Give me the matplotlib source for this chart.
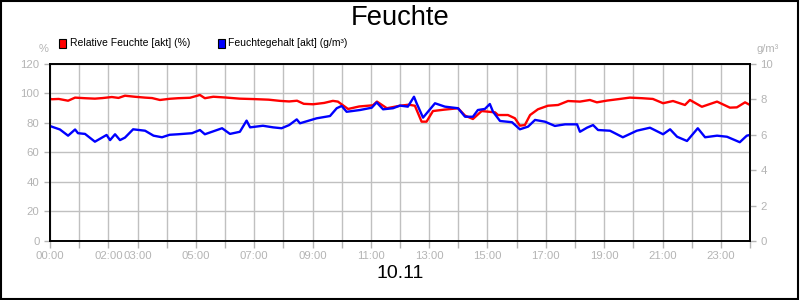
import matplotlib
matplotlib.use('Agg')
import matplotlib.pyplot as plt
from matplotlib.patches import Rectangle

plt.rcParams['font.family'] = ['Liberation Sans', 'DejaVu Sans']

# Relative Feuchte [%] (hours of day, value)
rh_t = [0.0, 0.06, 0.3, 0.62, 0.86, 1.2, 1.54, 1.8, 2.12, 2.35, 2.57, 2.9, 3.26, 3.5,
        3.77, 4.1, 4.39, 4.8, 5.14, 5.31, 5.6, 6.0, 6.5, 7.0, 7.5, 7.88, 8.2, 8.47,
        8.7, 9.02, 9.4, 9.7, 9.87, 10.22, 10.6, 11.07, 11.21, 11.55, 12.0, 12.3, 12.51,
        12.74, 12.91, 13.13, 13.5, 13.99, 14.23, 14.5, 14.8, 15.26, 15.36, 15.7, 15.94,
        16.11, 16.28, 16.46, 16.73, 17.07, 17.42, 17.76, 18.17, 18.51, 18.75, 19.1,
        19.54, 19.88, 20.3, 20.67, 21.02, 21.36, 21.77, 21.94, 22.35, 22.87, 23.31,
        23.55, 23.83, 24.0]
rh_v = [96.5, 96.1, 96.3, 95.1, 97.2, 96.8, 96.5, 96.9, 97.6, 97.0, 98.5, 97.8, 97.2,
        96.9, 95.6, 96.4, 96.8, 97.1, 99.0, 96.8, 97.8, 97.3, 96.5, 96.2, 95.8, 95.0,
        94.6, 95.1, 93.0, 92.7, 93.6, 95.0, 94.5, 89.5, 91.2, 92.0, 94.5, 90.0, 91.7,
        92.4, 91.7, 80.9, 80.9, 88.1, 89.0, 90.0, 85.0, 82.7, 88.1, 87.2, 85.4, 85.4,
        83.2, 78.2, 78.6, 85.4, 89.3, 91.7, 92.2, 94.9, 94.5, 95.6, 94.0, 95.2, 96.3,
        97.2, 96.8, 96.3, 93.4, 94.9, 92.2, 95.6, 91.0, 94.5, 90.4, 90.6, 94.0, 92.2]

# Feuchtegehalt [g/m3]
ah_t = [0.0, 0.06, 0.34, 0.62, 0.86, 0.96, 1.2, 1.54, 1.94, 2.06, 2.23, 2.4, 2.57, 2.85,
        3.26, 3.55, 3.84, 4.1, 4.39, 4.87, 5.14, 5.31, 5.9, 6.17, 6.51, 6.74, 6.86,
        7.3, 7.65, 7.94, 8.2, 8.46, 8.57, 9.14, 9.6, 9.83, 10.0, 10.17, 10.63, 11.03,
        11.2, 11.42, 11.76, 12.0, 12.27, 12.48, 12.57, 12.79, 13.2, 13.54, 13.99, 14.23,
        14.5, 14.67, 14.91, 15.08, 15.19, 15.43, 15.84, 16.11, 16.39, 16.63, 16.97,
        17.31, 17.66, 18.07, 18.17, 18.41, 18.62, 18.79, 19.2, 19.64, 20.12, 20.57,
        21.02, 21.26, 21.5, 21.84, 22.21, 22.46, 22.87, 23.21, 23.65, 23.89, 24.0]
ah_v = [6.5, 6.46, 6.3, 5.95, 6.3, 6.09, 6.05, 5.61, 5.99, 5.7, 6.03, 5.7, 5.84, 6.31,
        6.23, 5.95, 5.86, 6.0, 6.03, 6.09, 6.27, 6.03, 6.37, 6.05, 6.17, 6.8, 6.42,
        6.51, 6.42, 6.37, 6.55, 6.87, 6.65, 6.93, 7.06, 7.5, 7.63, 7.3, 7.4, 7.53,
        7.83, 7.44, 7.5, 7.65, 7.59, 8.15, 7.78, 6.97, 7.78, 7.59, 7.5, 7.02, 7.02, 7.4,
        7.46, 7.74, 7.3, 6.78, 6.71, 6.31, 6.46, 6.84, 6.74, 6.5, 6.59, 6.59, 6.17, 6.4,
        6.55, 6.27, 6.23, 5.86, 6.23, 6.4, 6.03, 6.31, 5.89, 5.65, 6.37, 5.86, 5.95,
        5.89, 5.58, 5.95, 5.99]

tick_hours = list(range(25))
label_hours = {0: '00:00', 2: '02:00', 3: '03:00', 5: '05:00', 7: '07:00', 9: '09:00',
               11: '11:00', 13: '13:00', 15: '15:00', 17: '17:00', 19: '19:00',
               21: '21:00', 23: '23:00'}

grey = '#b4b4b4'
fig = plt.figure(figsize=(8, 3), dpi=100)
fig.patches.append(Rectangle((0.001, 0.002), 0.997, 0.995, transform=fig.transFigure,
                             fill=False, edgecolor='black', linewidth=1.5))

ax = fig.add_axes([0.0625, 0.1967, 0.875, 0.59])
ax2 = ax.twinx()

ax.plot(rh_t, rh_v, color='#ff0000', linewidth=1.7)
ax2.plot(ah_t, ah_v, color='#0000ff', linewidth=1.7)

ax.set_xlim(0, 24)
ax.set_ylim(0, 120)
ax2.set_ylim(0, 10)
ax.set_yticks(range(0, 121, 20))
ax2.set_yticks(range(0, 11, 2))
ax.set_xticks(tick_hours)
ax.set_xticklabels([label_hours.get(h, '') for h in tick_hours])
ax.grid(True, color='#c0c0c0', linewidth=1)
ax.set_axisbelow(True)

for a in (ax, ax2):
    a.tick_params(colors=grey, labelsize=8.2, length=4, width=1)
    for s in a.spines.values():
        s.set_color('black')
        s.set_linewidth(1.2)
ax.tick_params(axis='x', length=5, pad=2)

fig.text(0.5, 0.94, 'Feuchte', ha='center', va='center', fontsize=19.7)
fig.text(0.5, 0.09, '10.11', ha='center', va='center', fontsize=14)
fig.text(0.054, 0.837, '%', ha='center', va='center', fontsize=8, color=grey)
fig.text(0.96, 0.835, 'g/m³', ha='center', va='center', fontsize=8, color=grey)

# legend
for x0, col, txt in [(0.074, '#ff0000', 'Relative Feuchte [akt] (%)'),
                     (0.272, '#0000ff', 'Feuchtegehalt [akt] (g/m³)')]:
    fig.patches.append(Rectangle((x0, 0.84), 0.009, 0.03, transform=fig.transFigure,
                                 facecolor=col, edgecolor='black', linewidth=0.8))
    fig.text(x0 + 0.013, 0.855, txt, ha='left', va='center', fontsize=7.5)

fig.savefig('out.png', dpi=100)
